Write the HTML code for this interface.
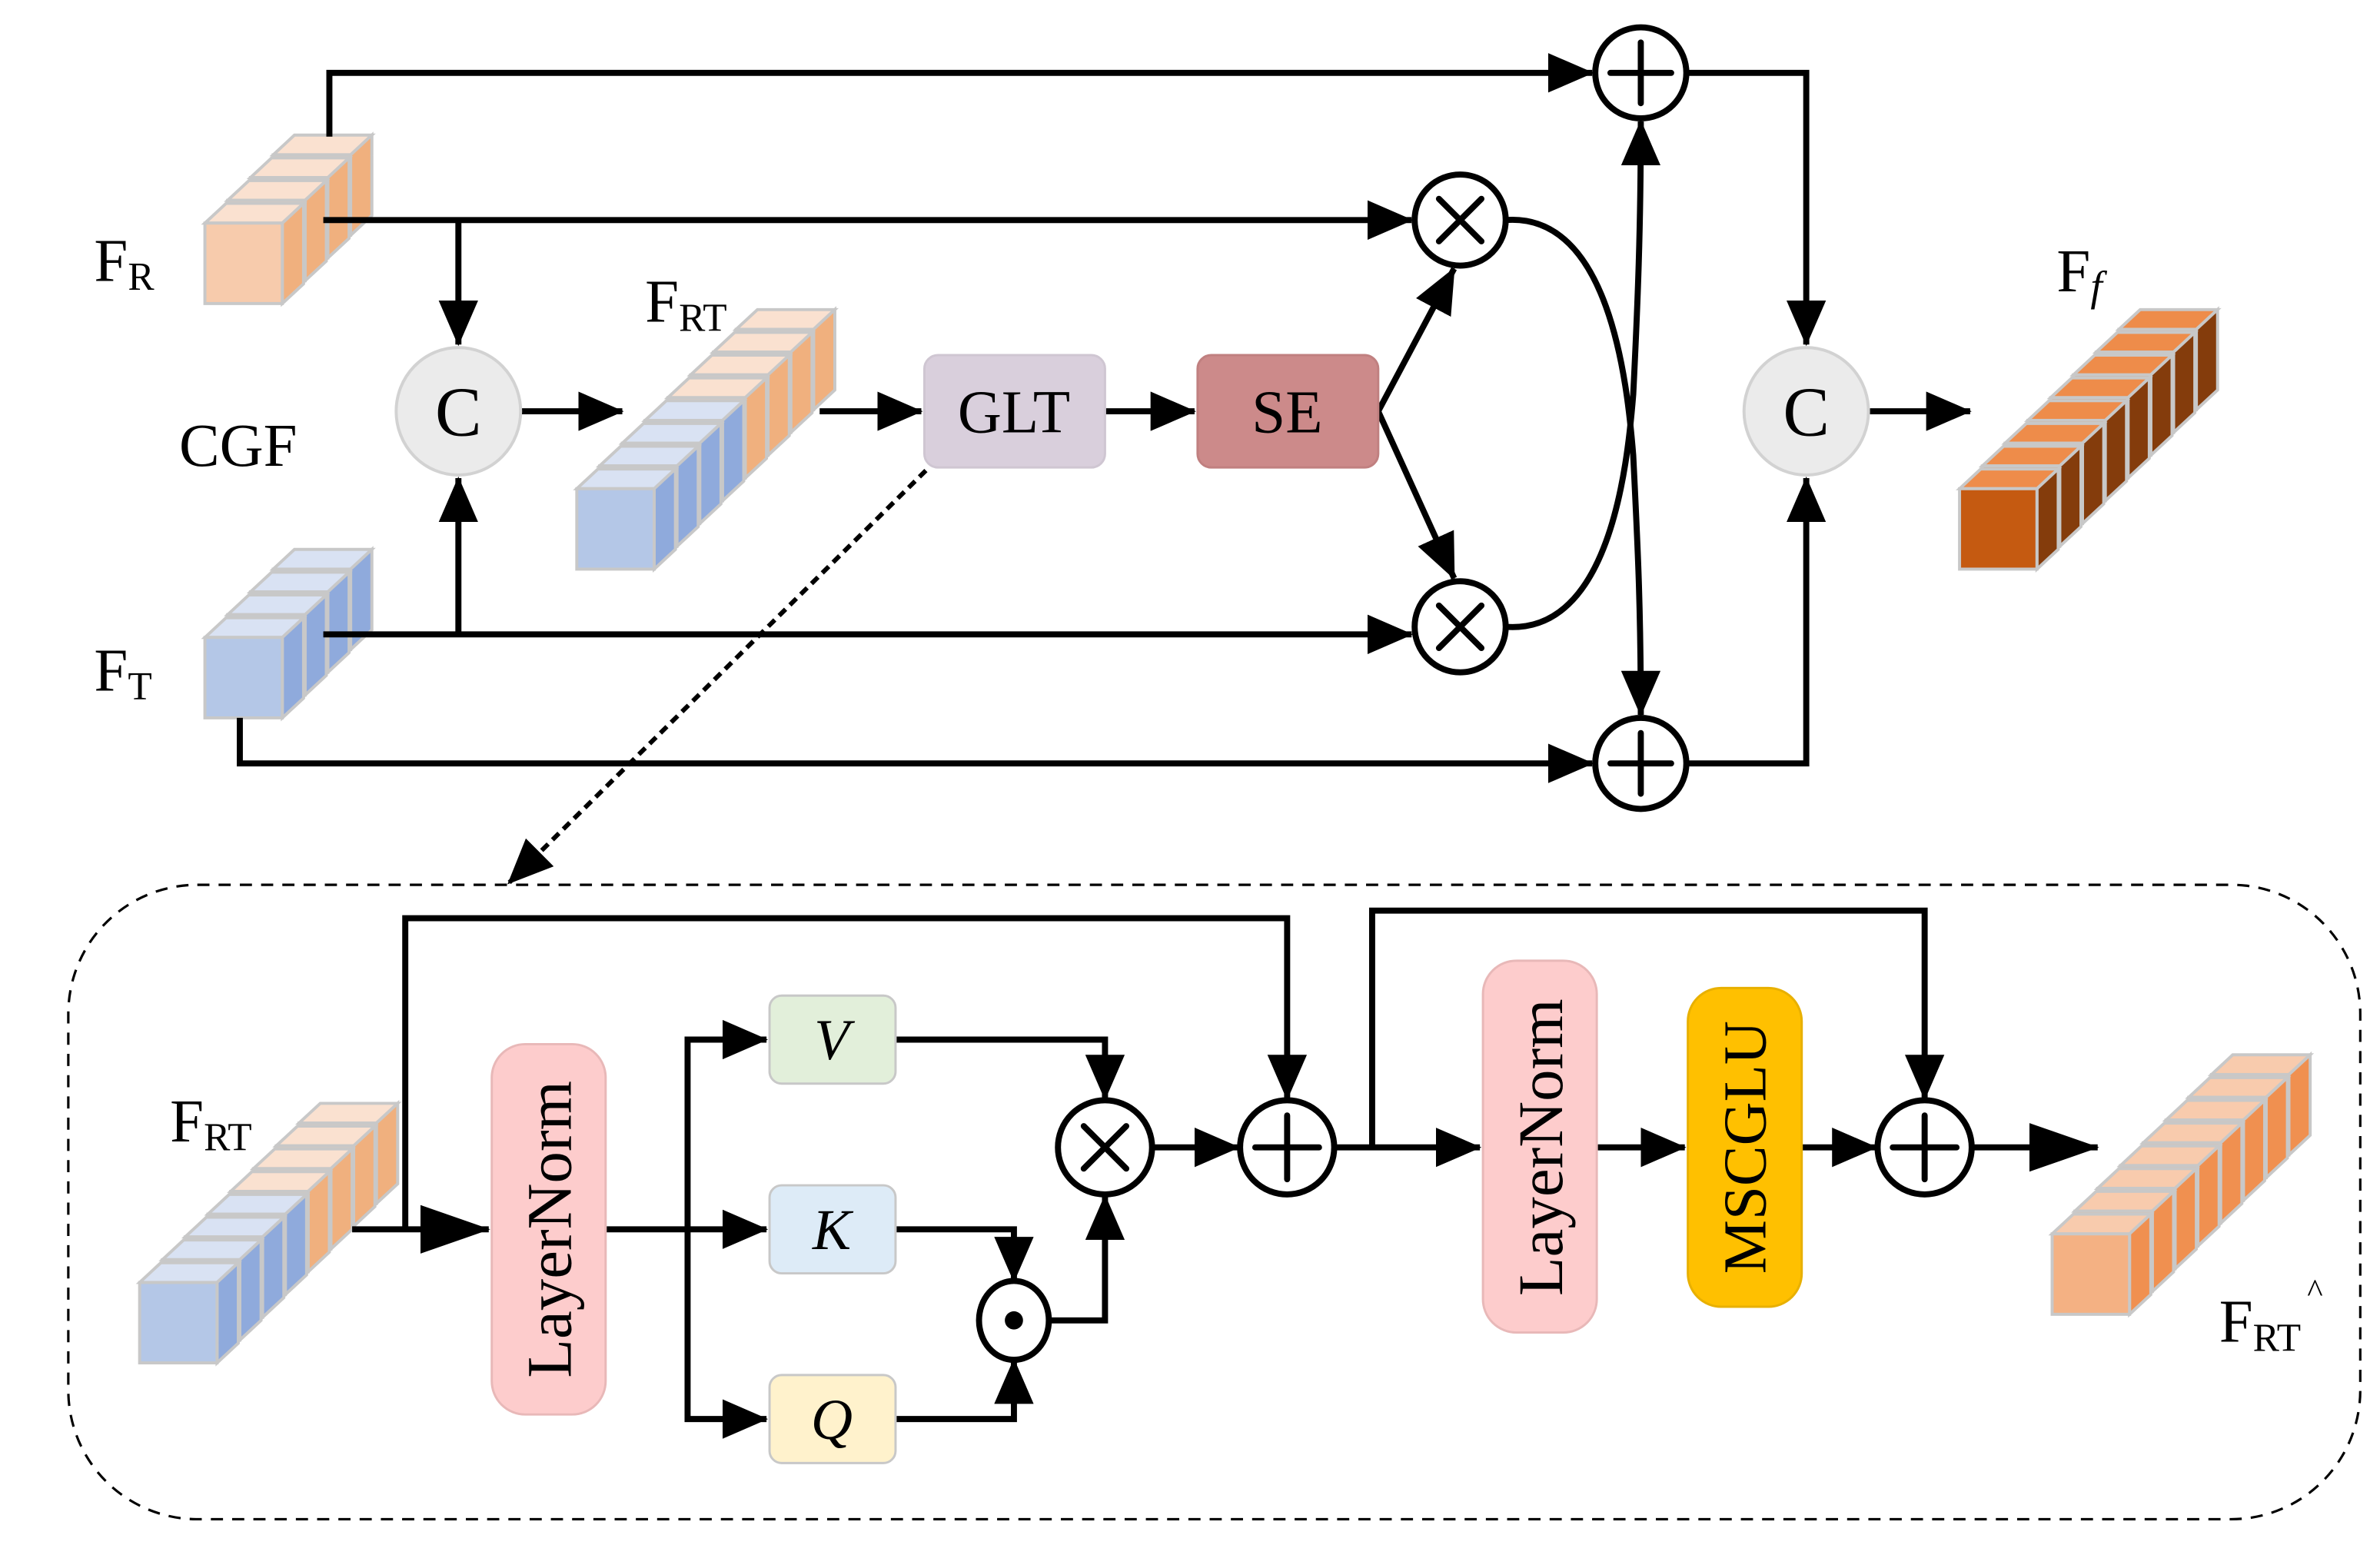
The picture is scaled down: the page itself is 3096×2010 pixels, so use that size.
<!DOCTYPE html>
<html><head><meta charset="utf-8"><style>
html,body{margin:0;padding:0;background:#fff}
svg{display:block}
svg text{font-family:"Liberation Serif","Times New Roman",Times,serif;fill:#000}
</style></head><body>
<svg id="s" xmlns="http://www.w3.org/2000/svg" width="3096" height="2010" viewBox="0 0 1568 1018" preserveAspectRatio="none" font-family="Liberation Serif, Times New Roman, serif">
<defs>
<marker id="a" markerUnits="userSpaceOnUse" markerWidth="30" markerHeight="26" refX="29" refY="13" orient="auto"><path d="M0,0 L30,13 L0,26 z"/></marker>
<marker id="b" markerUnits="userSpaceOnUse" markerWidth="46" markerHeight="32" refX="45" refY="16" orient="auto"><path d="M0,0 L46,16 L0,32 z"/></marker>
</defs>
<g id="cubes"></g>
<g fill="none" stroke="#000" stroke-width="4" stroke-linejoin="miter">
<path d="M217,90 V48 H1049" marker-end="url(#a)"/>
<path d="M213,145 H930" marker-end="url(#a)"/>
<path d="M302,145 V227" marker-end="url(#a)"/>
<path d="M213,418 H930" marker-end="url(#a)"/>
<path d="M302,418 V315" marker-end="url(#a)"/>
<path d="M158,473 V503 H1049" marker-end="url(#a)"/>
<path d="M343,271 H410" marker-end="url(#a)"/>
<path d="M540,271 H607" marker-end="url(#a)"/>
<path d="M728,271 H787" marker-end="url(#a)"/>
<path d="M908,271 L958,177" marker-end="url(#a)"/>
<path d="M908,271 L958,381" marker-end="url(#a)"/>
<path d="M992,145 C1060,140 1072,250 1076,300 C1079,360 1081,400 1081,471" marker-end="url(#a)"/>
<path d="M992,413 C1060,418 1072,310 1076,260 C1079,200 1081,150 1081,80" marker-end="url(#a)"/>
<path d="M1111,48 H1190 V227" marker-end="url(#a)"/>
<path d="M1111,503 H1190 V315" marker-end="url(#a)"/>
<path d="M1232,271 H1298" marker-end="url(#a)"/>
<path d="M610,310 L335,582" stroke-width="3" stroke-dasharray="6 4" marker-end="url(#a)"/>
<rect x="45" y="583" width="1510" height="418" rx="85" ry="85" stroke-width="1.6" stroke-dasharray="8 6"/>
<path d="M232,810 H322" marker-end="url(#b)"/>
<path d="M267,810 V605 H848 V724" marker-end="url(#a)"/>
<path d="M399,810 H505" marker-end="url(#a)"/>
<path d="M453,810 V685 H505" marker-end="url(#a)"/>
<path d="M453,810 V935 H505" marker-end="url(#a)"/>
<path d="M590,685 H728 V724" marker-end="url(#a)"/>
<path d="M590,810 H668 V844" marker-end="url(#a)"/>
<path d="M590,935 H668 V896" marker-end="url(#a)"/>
<path d="M692,870 H728 V788" marker-end="url(#a)"/>
<path d="M758,756 H816" marker-end="url(#a)"/>
<path d="M878,756 H975" marker-end="url(#a)"/>
<path d="M904,756 V600 H1268 V724" marker-end="url(#a)"/>
<path d="M1052,756 H1110" marker-end="url(#a)"/>
<path d="M1187,756 H1236" marker-end="url(#a)"/>
<path d="M1298,756 H1382" marker-end="url(#b)"/>
</g>
<ellipse cx="302" cy="271" rx="41" ry="42" fill="#EBEBEB" stroke="#D2D2D2" stroke-width="2"/>
<ellipse cx="1190" cy="271" rx="41" ry="42" fill="#EBEBEB" stroke="#D2D2D2" stroke-width="2"/>
<text x="302" y="287" font-size="46" text-anchor="middle">C</text>
<text x="1190" y="287" font-size="46" text-anchor="middle">C</text>
<rect x="609" y="234" width="119" height="74" rx="9" fill="#D9CFDC" stroke="#CFC6D2" stroke-width="1.5"/>
<text x="668" y="285" font-size="40" text-anchor="middle">GLT</text>
<rect x="789" y="234" width="119" height="74" rx="9" fill="#CC8A8A" stroke="#C08080" stroke-width="1.5"/>
<text x="848" y="285" font-size="40" text-anchor="middle">SE</text>
<rect x="324" y="688" width="75" height="244" rx="22" fill="#FDCCCC" stroke="#E8B8B8" stroke-width="1.5"/>
<text transform="translate(376,810) rotate(-90)" font-size="42" text-anchor="middle">LayerNorm</text>
<rect x="977" y="633" width="75" height="245" rx="22" fill="#FDCCCC" stroke="#E8B8B8" stroke-width="1.5"/>
<text transform="translate(1029,756) rotate(-90)" font-size="42" text-anchor="middle">LayerNorm</text>
<rect x="1112" y="651" width="75" height="210" rx="22" fill="#FFC000" stroke="#E8B000" stroke-width="1.5"/>
<text transform="translate(1163,756) rotate(-90)" font-size="40" text-anchor="middle">MSCGLU</text>
<rect x="507" y="656" width="83" height="58" rx="8" fill="#E2EFDA" stroke="#C8C8C8" stroke-width="1.5"/>
<text x="548" y="698" font-size="38" font-style="italic" text-anchor="middle">V</text>
<rect x="507" y="781" width="83" height="58" rx="8" fill="#DDEBF7" stroke="#C8C8C8" stroke-width="1.5"/>
<text x="548" y="823" font-size="38" font-style="italic" text-anchor="middle">K</text>
<rect x="507" y="906" width="83" height="58" rx="8" fill="#FFF2CC" stroke="#C8C8C8" stroke-width="1.5"/>
<text x="548" y="948" font-size="38" font-style="italic" text-anchor="middle">Q</text>
<g fill="#fff" stroke="#000" stroke-width="4">
<circle cx="962" cy="145" r="30"/><circle cx="962" cy="413" r="30"/>
<circle cx="1081" cy="48" r="30"/><circle cx="1081" cy="503" r="30"/>
<circle cx="728" cy="756" r="31"/><circle cx="848" cy="756" r="31"/>
<circle cx="1268" cy="756" r="31"/><ellipse cx="668" cy="870" rx="23" ry="26"/>
</g>
<g stroke="#000" stroke-width="4" stroke-linecap="round">
<path d="M948,131 L976,159 M976,131 L948,159"/>
<path d="M948,399 L976,427 M976,399 L948,427"/>
<path d="M1081,28 V68 M1061,48 H1101"/>
<path d="M1081,483 V523 M1061,503 H1101"/>
<path d="M714,742 L742,770 M742,742 L714,770"/>
<path d="M848,735 V777 M827,756 H869"/>
<path d="M1268,735 V777 M1247,756 H1289"/>
</g>
<circle cx="668" cy="870" r="6" fill="#000"/>
<text x="62" y="185" font-size="40">F<tspan font-size="26" dy="6">R</tspan></text>
<text x="62" y="455" font-size="40">F<tspan font-size="26" dy="6">T</tspan></text>
<text x="118" y="307" font-size="40">CGF</text>
<text x="425" y="212" font-size="40">F<tspan font-size="26" dy="6">RT</tspan></text>
<text x="1355" y="192" font-size="40">F<tspan font-size="28" dy="6" font-style="italic">f</tspan></text>
<text x="112" y="752" font-size="40">F<tspan font-size="26" dy="6">RT</tspan></text>
<text x="1462" y="884" font-size="40">F<tspan font-size="26" dy="6">RT</tspan></text>
<text x="1520" y="858" font-size="22">^</text>
</svg>
<script>
(function(){
var g=document.getElementById('cubes'),s='';
var O=['#F7CBAC','#F0B07E','#FAE1D0'],B=['#B4C7E7','#8FAADC','#D9E2F3'],
D=['#C55A11','#843C0C','#EE8C4A'],P=['#F4B183','#F09050','#F8CBAD'];
function stack(x,y,cols){
 for(var i=cols.length-1;i>=0;i--){
  var c=cols[i],cx=x+15*i,cy=y-15*i,w=51,h=53,d=14,e=13;
  s+='<g stroke="#C8C8C8" stroke-width="2" stroke-linejoin="miter">';
  s+='<polygon fill="'+c[2]+'" points="'+cx+','+cy+' '+(cx+d)+','+(cy-e)+' '+(cx+w+d)+','+(cy-e)+' '+(cx+w)+','+cy+'"/>';
  s+='<polygon fill="'+c[1]+'" points="'+(cx+w)+','+cy+' '+(cx+w+d)+','+(cy-e)+' '+(cx+w+d)+','+(cy+h-e)+' '+(cx+w)+','+(cy+h)+'"/>';
  s+='<rect fill="'+c[0]+'" x="'+cx+'" y="'+cy+'" width="'+w+'" height="'+h+'"/></g>';
 }
}
stack(135,147,[O,O,O,O]);
stack(135,420,[B,B,B,B]);
stack(380,322,[B,B,B,B,O,O,O,O]);
stack(1291,322,[D,D,D,D,D,D,D,D]);
stack(92,845,[B,B,B,B,O,O,O,O]);
stack(1352,813,[P,P,P,P,P,P,P,P]);
g.innerHTML=s;
})();
</script>
</body></html>
